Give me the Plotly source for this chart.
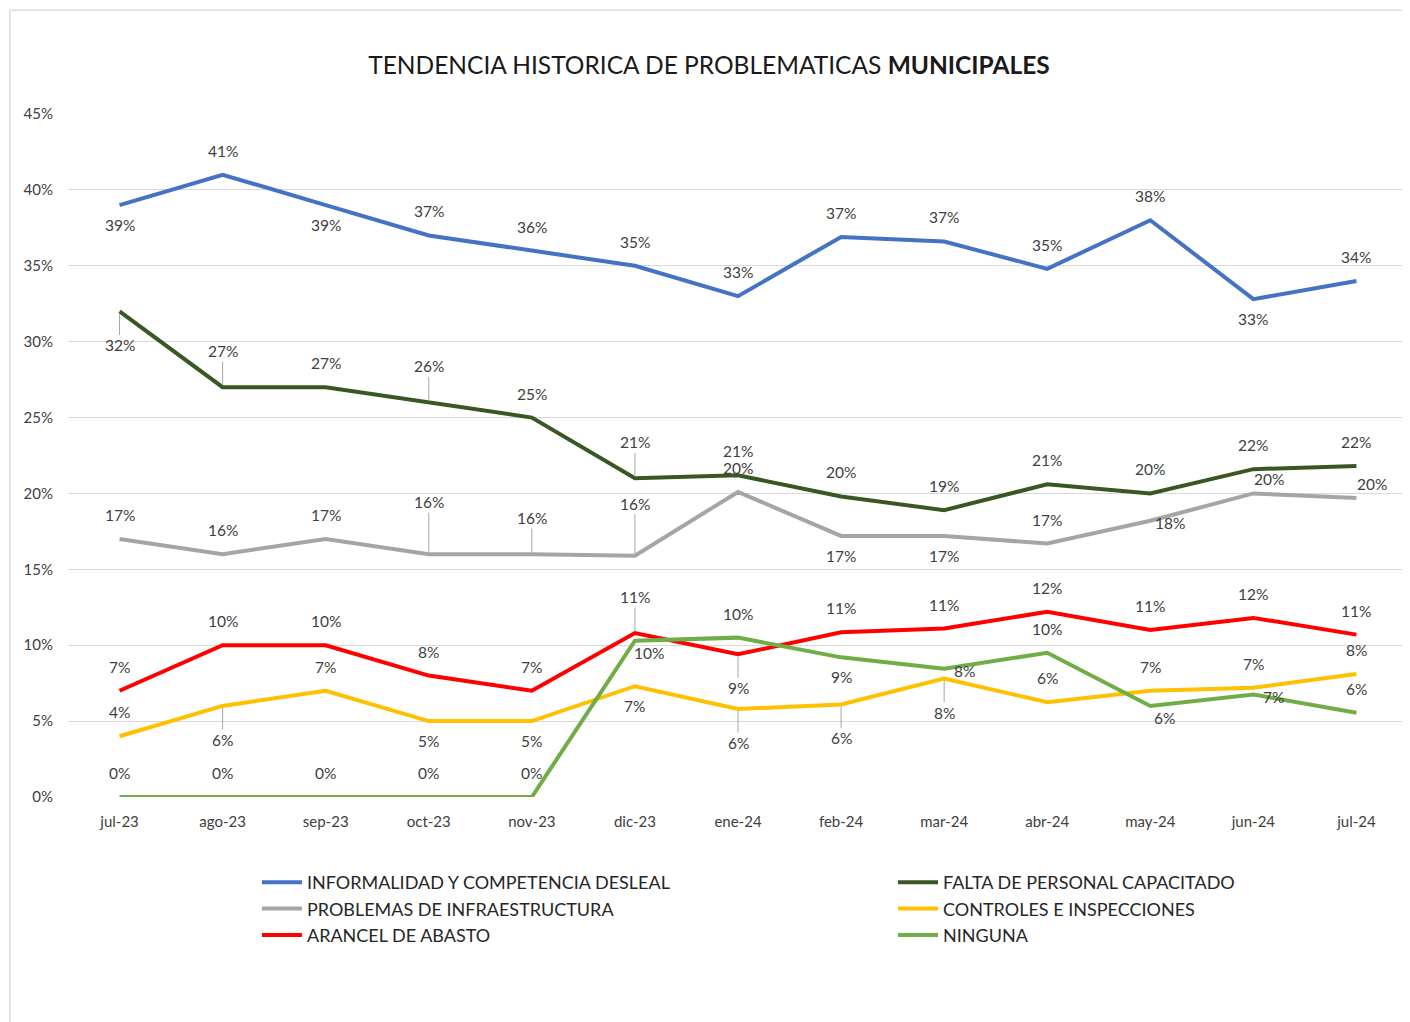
import plotly.graph_objects as go

# ---------------------------
# Data (in %)
# ---------------------------
months = ["jul-23", "ago-23", "sep-23", "oct-23", "nov-23", "dic-23", "ene-24",
          "feb-24", "mar-24", "abr-24", "may-24", "jun-24", "jul-24"]

informalidad = [39.0, 41.0, 39.0, 37.0, 36.0, 35.0, 33.0, 36.9, 36.6, 34.8, 38.0, 32.8, 34.0]
falta_personal = [32.0, 27.0, 27.0, 26.0, 25.0, 21.0, 21.2, 19.8, 18.9, 20.6, 20.0, 21.6, 21.8]
infraestructura = [17.0, 16.0, 17.0, 16.0, 16.0, 15.9, 20.1, 17.2, 17.2, 16.7, 18.2, 20.0, 19.7]
controles = [4.0, 6.0, 7.0, 5.0, 5.0, 7.3, 5.8, 6.1, 7.8, 6.25, 7.0, 7.2, 8.1]
arancel = [7.0, 10.0, 10.0, 8.0, 7.0, 10.8, 9.4, 10.85, 11.1, 12.2, 11.0, 11.8, 10.7]
ninguna = [0.0, 0.0, 0.0, 0.0, 0.0, 10.3, 10.5, 9.2, 8.45, 9.5, 6.0, 6.75, 5.55]

y_ticks = [0, 5, 10, 15, 20, 25, 30, 35, 40, 45]

# ---------------------------
# Series: name, values, colour, legend column, label placement per point
# t = above, b = below, T/TT/B = above/below with leader line, r = right, tr/br = diagonal
# ---------------------------
series = [
    ("INFORMALIDAD Y COMPETENCIA DESLEAL", informalidad, "#4472C4", "legend",
     ["b", "t", "b", "t", "t", "t", "t", "t", "t", "t", "t", "b", "t"]),
    ("PROBLEMAS DE INFRAESTRUCTURA", infraestructura, "#A5A5A5", "legend",
     ["t", "t", "t", "TT", "T", "TT", "t", "b", "b", "t", "r", "tr", "tr"]),
    ("ARANCEL DE ABASTO", arancel, "#FF0000", "legend",
     ["t", "t", "t", "t", "t", "T", "B", "t", "t", "t", "t", "t", "t"]),
    ("FALTA DE PERSONAL CAPACITADO", falta_personal, "#385723", "legend2",
     ["B", "T", "t", "T", "t", "T", "t", "t", "t", "t", "t", "t", "t"]),
    ("CONTROLES E INSPECCIONES", controles, "#FFC000", "legend2",
     ["t", "B", "t", "b", "b", "b", "B", "B", "B", "t", "t", "t", "t"]),
    ("NINGUNA", ninguna, "#70AD47", "legend2",
     ["t", "t", "t", "t", "t", "br", "t", "b", "r", "t", "br", "r", "t"]),
]

# draw order as in the original (blue, dark green, gray, yellow, red, green)
draw_order = [0, 3, 1, 4, 2, 5]

shift = {
    "t": (0, 24), "b": (0, -20), "r": (20, -2),
    "tr": (16, 14), "br": (14, -12),
}
leader = {"T": -36, "TT": -52, "B": 34}

FONT = "Lato, Open Sans, sans-serif"
label_font = dict(family=FONT, size=15.5, color="#404040")

fig = go.Figure()
annotations = []

for i in draw_order:
    name, vals, color, leg, pos = series[i]
    fig.add_trace(go.Scatter(
        x=months, y=vals, name=name, mode="lines",
        line=dict(color=color, width=4),
        legend=leg, hoverinfo="x+y+name",
    ))
    for m, v, p in zip(months, vals, pos):
        txt = f"{round(v)}%"
        if p in leader:
            annotations.append(dict(
                x=m, y=v, text=txt, showarrow=True, arrowhead=0,
                arrowwidth=1, arrowcolor="#A6A6A6", ax=0, ay=leader[p],
                standoff=2, font=label_font,
            ))
        else:
            dx, dy = shift[p]
            annotations.append(dict(
                x=m, y=v, text=txt, showarrow=False,
                xshift=dx, yshift=dy, font=label_font,
            ))

legend_font = dict(family=FONT, size=18, color="#262626")

fig.update_layout(
    width=1402, height=1014,
    margin=dict(l=60, r=2, t=106, b=225),
    paper_bgcolor="white", plot_bgcolor="white",
    title=dict(
        text="TENDENCIA HISTORICA DE PROBLEMATICAS <b>MUNICIPALES</b>",
        x=0.5, xanchor="center", y=1 - 57 / 1014, yanchor="middle",
        font=dict(family=FONT, size=24.5, color="#1a1a1a"),
    ),
    font=dict(family=FONT, color="#404040"),
    showlegend=True,
    legend=dict(x=0.141, xanchor="left", y=-0.098, yanchor="top",
                font=legend_font, itemwidth=40, bgcolor="rgba(0,0,0,0)"),
    legend2=dict(x=0.6157, xanchor="left", y=-0.098, yanchor="top",
                 font=legend_font, itemwidth=40, bgcolor="rgba(0,0,0,0)"),
    annotations=annotations,
    shapes=[dict(
        type="rect", xref="paper", yref="paper",
        x0=-0.0433, x1=1.05, y0=-0.5, y1=1.152,
        line=dict(color="#E3E3E3", width=2), fillcolor="rgba(0,0,0,0)",
        layer="below",
    )],
)

fig.update_xaxes(
    type="category", range=[-0.5, len(months) - 0.5],
    showgrid=False, showline=False, zeroline=False,
    ticks="", tickfont=dict(family=FONT, size=15, color="#404040"),
    ticklabelstandoff=14,
)
fig.update_yaxes(
    range=[0, 45], tickvals=y_ticks, ticktext=[f"{t}%" for t in y_ticks],
    showgrid=True, gridcolor="#D9D9D9", gridwidth=1,
    zeroline=False, showline=False, ticks="",
    tickfont=dict(family=FONT, size=15, color="#404040"),
    ticklabelstandoff=14,
)

fig.write_html("out.html")
